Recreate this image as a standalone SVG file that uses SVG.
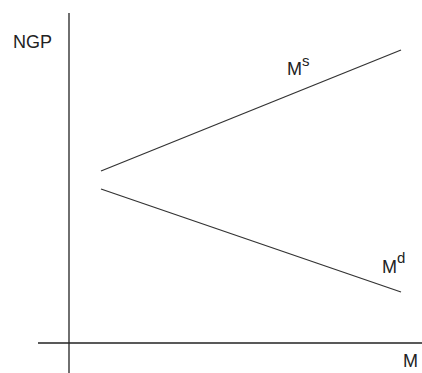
<svg xmlns="http://www.w3.org/2000/svg" width="422" height="373" viewBox="0 0 422 373">
<style>
.ax{stroke:#222;stroke-width:1.3;fill:none}
.ln{stroke:#333;stroke-width:1.3;fill:none}
text{font-family:"Liberation Sans",Arial,sans-serif;fill:#222}
.lb{font-size:18px}
.sup{font-size:15px}
</style>
<rect width="422" height="373" fill="#fff"/>
<g id="axes">
<line class="ax" x1="69" y1="13" x2="69" y2="373"/>
<line class="ax" x1="38" y1="343" x2="422" y2="343"/>
</g>
<g id="connectors">
<line class="ln" x1="101" y1="171" x2="401" y2="50"/>
<line class="ln" x1="101" y1="189" x2="401" y2="292"/>
</g>
<g id="labels">
<text class="lb" x="13" y="48">NGP</text>
<text class="lb" x="287" y="75">M<tspan class="sup" dy="-9">s</tspan></text>
<text class="lb" x="382" y="273">M<tspan class="sup" dy="-10">d</tspan></text>
<text class="lb" x="403" y="367">M</text>
</g>
</svg>
